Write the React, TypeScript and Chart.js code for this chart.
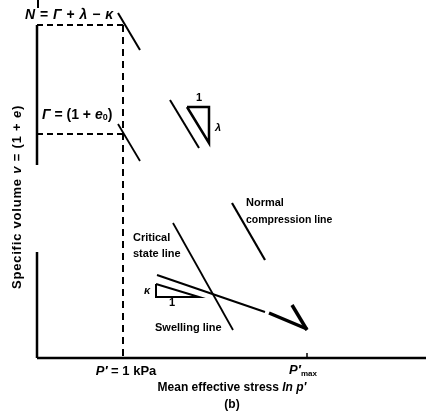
import React, { useEffect, useRef } from "react";
import { Chart, registerables } from "chart.js";
Chart.register(...registerables);

// Diagram units: x = ln p' (p' = 1 kPa at 0), y = specific volume (arbitrary units, 0 at axis)
const X_MIN = -8.6;
const X_MAX = 30.3;
const Y_MIN = 0;
const Y_MAX = 35.8;

const leftAxisUpper = [{ x: -8.6, y: 33.3 }, { x: -8.6, y: 19.3 }];
const leftAxisTick = [{ x: -8.5, y: 35.8 }, { x: -8.5, y: 35.0 }];
const leftAxisLower = [{ x: -8.6, y: 10.6 }, { x: -8.6, y: 0 }];
const bottomAxis = [{ x: -8.6, y: 0 }, { x: 30.3, y: 0 }];
const nLevel = [{ x: -8.6, y: 33.3 }, { x: 0, y: 33.3 }];
const gammaLevel = [{ x: -8.6, y: 22.4 }, { x: 0, y: 22.4 }];
const unitStress = [{ x: 0, y: 33.3 }, { x: 0, y: 0 }];
const nclStub = [{ x: -0.5, y: 34.5 }, { x: 1.7, y: 30.8 }];
const cslStub = [{ x: -0.5, y: 23.4 }, { x: 1.7, y: 19.7 }];
const lambdaLine = [{ x: 4.7, y: 25.8 }, { x: 7.6, y: 21.0 }];
const lambdaTri = [{ x: 6.4, y: 25.1 }, { x: 8.6, y: 25.1 }, { x: 8.6, y: 21.5 }, { x: 6.4, y: 25.1 }];
const nclSegment = [{ x: 10.9, y: 15.5 }, { x: 14.2, y: 9.8 }];
const nclEnd = [{ x: 16.9, y: 5.3 }, { x: 18.4, y: 2.8 }];
const csl = [{ x: 5.0, y: 13.5 }, { x: 11.0, y: 2.8 }];
const swelling = [{ x: 3.4, y: 8.3 }, { x: 14.2, y: 4.6 }];
const swellingEnd = [{ x: 14.6, y: 4.5 }, { x: 18.4, y: 2.9 }];
const kappaTri = [{ x: 3.3, y: 7.4 }, { x: 3.3, y: 6.1 }, { x: 7.6, y: 6.1 }, { x: 3.3, y: 7.4 }];
const pmaxTick = [{ x: 18.4, y: 0.5 }, { x: 18.4, y: 0 }];

const FONT = "'Liberation Sans', Arial, sans-serif";

type Run = { t: string; style?: string; size?: number; dy?: number };
type Label = { x: number; y: number; align: "left" | "center"; runs: Run[]; rotate?: boolean; spacing?: number };

const B = "bold";
const BI = "italic bold";

const labels: Label[] = [
  { x: -9.8, y: 34.3, align: "left", spacing: 0.5, runs: [{ t: "N", style: BI, size: 14 }, { t: " = ", style: B, size: 14 }, { t: "Γ", style: BI, size: 14 }, { t: " + ", style: B, size: 14 }, { t: "λ", style: BI, size: 14 }, { t: " − ", style: B, size: 14 }, { t: "κ", style: BI, size: 14 }] },
  { x: -8.1, y: 24.3, align: "left", runs: [{ t: "Γ", style: BI, size: 14 }, { t: " = (1 + ", style: B, size: 14 }, { t: "e", style: BI, size: 14 }, { t: "0", style: B, size: 9, dy: 3 }, { t: ")", style: B, size: 14 }] },
  { x: 7.6, y: 26.0, align: "center", runs: [{ t: "1", style: B, size: 11 }] },
  { x: 9.5, y: 23.0, align: "center", runs: [{ t: "λ", style: BI, size: 11 }] },
  { x: 12.3, y: 15.5, align: "left", runs: [{ t: "Normal", style: B, size: 11 }] },
  { x: 12.3, y: 13.8, align: "left", runs: [{ t: "compression line", style: B, size: 10.5 }] },
  { x: 1.0, y: 12.0, align: "left", runs: [{ t: "Critical", style: B, size: 11 }] },
  { x: 1.0, y: 10.4, align: "left", runs: [{ t: "state line", style: B, size: 11 }] },
  { x: 2.4, y: 6.7, align: "center", runs: [{ t: "κ", style: BI, size: 11 }] },
  { x: 4.9, y: 5.5, align: "center", runs: [{ t: "1", style: B, size: 11 }] },
  { x: 3.2, y: 3.0, align: "left", runs: [{ t: "Swelling line", style: B, size: 11 }] },
  { x: 0.3, y: -1.3, align: "center", runs: [{ t: "P′", style: BI, size: 13 }, { t: " = 1 kPa", style: B, size: 13 }] },
  { x: 18.0, y: -1.2, align: "center", runs: [{ t: "P′", style: BI, size: 13 }, { t: "max", style: B, size: 8, dy: 4 }] },
  { x: 10.9, y: -2.95, align: "center", runs: [{ t: "Mean effective stress ", style: B, size: 12 }, { t: "ln p′", style: BI, size: 12 }] },
  { x: 10.9, y: -4.65, align: "center", runs: [{ t: "(b)", style: B, size: 12 }] },
  { x: -10.6, y: 16.1, align: "center", rotate: true, spacing: 0.8, runs: [{ t: "Specific volume ", style: B, size: 13 }, { t: "v", style: BI, size: 13 }, { t: " = (1 + ", style: B, size: 13 }, { t: "e", style: BI, size: 13 }, { t: ")", style: B, size: 13 }] },
];

function line(data: { x: number; y: number }[], width: number, dash: number[] = []) {
  return {
    data,
    showLine: true,
    borderColor: "#000",
    backgroundColor: "#000",
    borderWidth: width,
    borderDash: dash,
    pointRadius: 0,
    tension: 0,
    clip: false as any,
    borderCapStyle: "butt" as any,
    borderJoinStyle: "miter" as any,
  };
}

const textPlugin = {
  id: "diagramText",
  afterDatasetsDraw(chart: any) {
    const ctx = chart.ctx as any;
    const xs = chart.scales.x;
    const ys = chart.scales.y;
    ctx.save();
    ctx.fillStyle = "#000";
    ctx.textBaseline = "middle";
    for (const lab of labels) {
      const px = xs.getPixelForValue(lab.x);
      const py = ys.getPixelForValue(lab.y);
      ctx.letterSpacing = `${lab.spacing || 0}px`;
      const widths = lab.runs.map((r) => {
        ctx.font = `${r.style || B} ${r.size || 12}px ${FONT}`;
        return ctx.measureText(r.t).width;
      });
      const total = widths.reduce((a: number, b: number) => a + b, 0);
      ctx.save();
      ctx.translate(px, py);
      if (lab.rotate) ctx.rotate(-Math.PI / 2);
      let cx = lab.align === "center" ? -total / 2 : 0;
      ctx.textAlign = "left";
      lab.runs.forEach((r, i) => {
        ctx.font = `${r.style || B} ${r.size || 12}px ${FONT}`;
        ctx.fillText(r.t, cx, r.dy || 0);
        cx += widths[i];
      });
      ctx.restore();
    }
    ctx.letterSpacing = "0px";
    ctx.restore();
  },
};

export default function App() {
  const ref = useRef<HTMLCanvasElement | null>(null);
  useEffect(() => {
    if (!ref.current) return;
    const chart = new Chart(ref.current, {
      type: "scatter",
      data: {
        datasets: [
          line(leftAxisUpper, 2.5),
          line(leftAxisTick, 2),
          line(leftAxisLower, 2.5),
          line(bottomAxis, 2.5),
          line(nLevel, 2, [6, 4]),
          line(gammaLevel, 2, [6, 4]),
          line(unitStress, 2, [7, 5]),
          line(nclStub, 2),
          line(cslStub, 1.8),
          line(lambdaLine, 2),
          line(lambdaTri, 2.5),
          line(nclSegment, 2.2),
          line(nclEnd, 3.5),
          line(csl, 1.8),
          line(swelling, 2),
          line(swellingEnd, 3.5),
          line(kappaTri, 2),
          line(pmaxTick, 1.5),
        ] as any,
      },
      options: {
        responsive: false,
        maintainAspectRatio: false,
        animation: false,
        events: [],
        layout: { padding: { left: 37, right: 0, top: 0, bottom: 54 } },
        scales: {
          x: { type: "linear", display: false, min: X_MIN, max: X_MAX },
          y: { type: "linear", display: false, min: Y_MIN, max: Y_MAX },
        },
        plugins: { legend: { display: false }, tooltip: { enabled: false } },
      },
      plugins: [textPlugin],
    });
    return () => chart.destroy();
  }, []);
  return (
    <div style={{ position: "fixed", left: 0, top: 0, width: 426, height: 412, background: "#fff" }}>
      <canvas ref={ref} width={426} height={412} style={{ display: "block", width: 426, height: 412 }} />
    </div>
  );
}
